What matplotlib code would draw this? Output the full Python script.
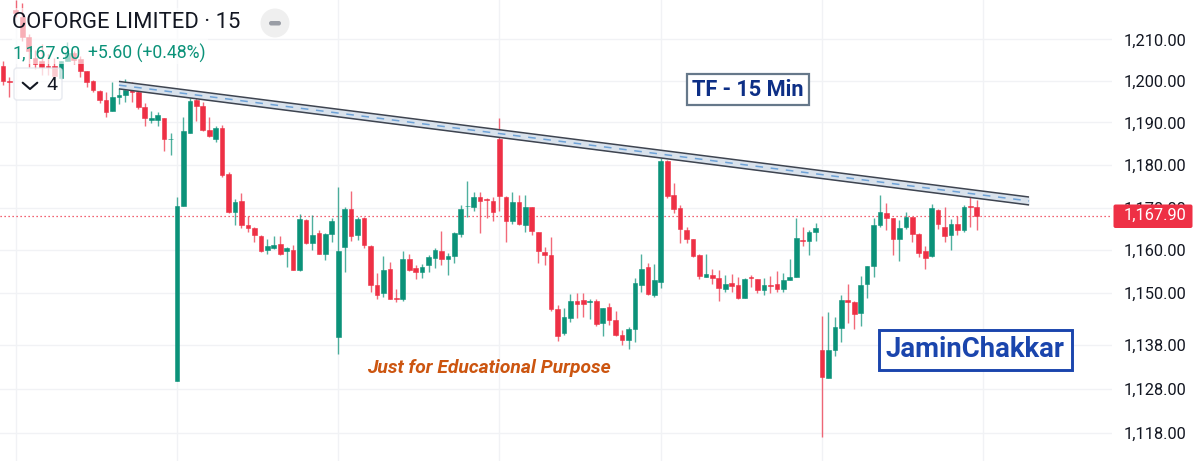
import numpy as np
import matplotlib
matplotlib.use("Agg")
import matplotlib.pyplot as plt
from matplotlib.patches import FancyBboxPatch, Rectangle, Circle
from matplotlib.ticker import FixedLocator, FixedFormatter

plt.rcParams['font.family'] = ['Roboto', 'DejaVu Sans']

# ---- data ----
title = "COFORGE LIMITED · 15"
last_price = 1167.90
tick_values = [1118, 1128, 1138, 1150, 1160, 1170, 1180, 1190, 1200, 1210]
tick_labels = ["1,118.00", "1,128.00", "1,138.00", "1,150.00", "1,160.00",
               "1,170.00", "1,180.00", "1,190.00", "1,200.00", "1,210.00"]
time_grid_idx = [2, 27, 52, 77, 102, 127, 152]

directions = ("RRRRRRRRR GG RRRRRR GGG RRR GG R GGGG RRR G RR G RRRR GG R G R G R G R "
              "GGGG R G RRR G RR G RR GGG R GGGGG RRRRR G R G RRRRR GG RR G R G RRR GGG "
              "R GG RRRRRR G RR G RR G RR G RR GGG R GG R GGG RR GGGG RR GG RRR G RR G R G RR").replace(" ", "")

body_top = [1203.7,1199.9,1216.7,1215.1,1210.6,1205.6,1204.9,1203.6,1203.5,1204.9,
1206.8,1206.8,1205.4,1202.3,1199.9,1197.6,1195.5,1196.2,1196.6,1197.8,
1197.8,1197.3,1193.8,1191.0,1191.7,1191.2,1186.2,1170.4,1187.9,1195.2,
1195.5,1194.0,1188.3,1188.6,1188.8,1177.9,1171.3,1171.6,1165.9,1165.2,
1163.3,1160.9,1161.2,1161.4,1160.5,1160.0,1167.3,1167.1,1163.5,1164.0,
1163.8,1166.8,1159.8,1169.7,1169.7,1167.3,1167.5,1160.9,1151.8,1155.3,
1155.5,1148.7,1157.9,1157.9,1155.8,1156.0,1158.4,1160.0,1159.8,1158.6,
1164.0,1169.7,1170.4,1172.5,1172.5,1172.0,1171.6,1186.0,1172.5,1171.3,
1171.3,1170.1,1170.1,1164.2,1159.5,1158.8,1146.2,1144.4,1148.1,1148.1,
1148.3,1148.1,1148.1,1146.5,1146.7,1143.7,1140.3,1141.7,1152.2,1155.5,
1156.0,1152.9,1180.8,1180.8,1173.0,1169.9,1164.7,1162.6,1158.8,1154.4,
1154.1,1153.4,1152.0,1152.2,1151.8,1153.2,1153.6,1153.2,1151.8,1151.8,
1152.0,1152.9,1153.6,1162.8,1162.4,1164.3,1165.2,1136.9,1136.9,1142.1,
1148.3,1148.3,1147.8,1151.8,1156.2,1165.9,1169.0,1168.7,1167.6,1165.2,
1167.8,1167.8,1163.8,1159.8,1169.9,1169.4,1165.4,1166.1,1166.1,1170.1,
1170.3,1170.1]

body_bottom = [1199.9,1199.8,1216.0,1210.6,1207.3,1204.2,1203.3,1203.3,1201.1,1200.7,
1204.9,1205.1,1202.3,1199.7,1197.8,1195.5,1192.6,1192.8,1196.2,1196.6,
1197.3,1193.8,1191.0,1190.7,1190.7,1186.0,1186.0,1129.8,1170.4,1187.6,
1194.0,1188.3,1186.7,1186.0,1177.7,1169.0,1169.0,1165.9,1165.2,1163.5,
1159.8,1160.0,1160.5,1159.1,1159.8,1155.3,1155.3,1161.6,1161.6,1159.1,
1159.1,1163.8,1139.8,1160.7,1163.3,1163.5,1161.2,1151.8,1149.4,1149.9,
1148.5,1148.5,1148.5,1155.3,1154.8,1154.8,1156.5,1158.1,1157.9,1157.9,
1158.6,1163.8,1170.3,1170.1,1171.6,1171.8,1169.0,1172.7,1166.8,1166.8,
1166.1,1165.9,1164.5,1159.8,1158.8,1146.2,1140.1,1140.7,1144.2,1147.4,
1147.4,1147.8,1142.8,1143.0,1143.7,1140.3,1139.1,1139.1,1141.7,1151.8,
1149.7,1149.4,1152.5,1172.7,1169.7,1165.0,1162.6,1158.6,1153.9,1153.7,
1153.4,1151.1,1150.8,1151.5,1148.7,1148.7,1153.4,1150.6,1150.6,1151.5,
1150.8,1150.8,1152.9,1153.6,1162.1,1162.1,1164.3,1130.7,1130.5,1136.9,
1141.9,1147.8,1145.1,1145.3,1152.0,1156.2,1165.9,1167.6,1162.6,1162.6,
1165.4,1163.8,1159.3,1158.1,1158.6,1166.1,1163.3,1163.5,1164.7,1164.7,
1170.1,1167.9]

highs = [1204.7,1200.9,1219.1,1218.4,1211.3,1207.5,1208.9,1206.6,1205.6,1204.9,
1209.4,1207.3,1206.1,1202.3,1200.2,1197.8,1197.3,1199.7,1198.3,1200.4,
1199.7,1198.5,1194.7,1192.8,1192.6,1191.2,1187.4,1172.5,1191.4,1196.6,
1196.6,1195.0,1191.4,1189.1,1189.5,1178.2,1172.0,1173.5,1168.0,1165.4,
1163.5,1162.6,1163.3,1163.3,1160.7,1161.2,1168.5,1167.3,1168.3,1164.7,
1164.0,1167.5,1174.9,1170.1,1173.9,1167.8,1167.8,1161.2,1154.6,1158.6,
1157.2,1150.8,1159.8,1159.1,1156.5,1156.7,1158.8,1160.5,1164.5,1159.3,
1164.2,1170.6,1176.1,1173.7,1173.7,1172.3,1172.5,1191.0,1172.7,1173.7,
1173.0,1173.0,1170.1,1164.2,1160.7,1163.1,1147.1,1146.5,1149.7,1149.9,
1149.9,1148.5,1148.5,1146.5,1147.6,1145.8,1141.4,1142.1,1153.5,1159.1,
1156.9,1156.7,1181.5,1181.0,1175.8,1170.6,1165.4,1162.6,1159.1,1159.1,
1155.5,1155.3,1154.1,1154.4,1153.6,1153.4,1154.1,1153.2,1153.4,1153.9,
1155.1,1154.6,1157.9,1167.6,1165.4,1164.7,1166.4,1144.6,1145.5,1144.4,
1149.4,1152.0,1148.1,1153.9,1156.2,1167.6,1173.0,1171.1,1167.6,1167.1,
1169.0,1167.8,1164.0,1160.9,1170.9,1169.7,1170.1,1167.3,1168.0,1170.6,
1174.4,1171.8]

lows = [1199.0,1196.2,1215.1,1209.6,1203.3,1203.0,1201.4,1201.4,1200.9,1200.4,
1204.9,1204.0,1200.9,1198.5,1197.3,1194.7,1191.4,1192.8,1194.5,1195.0,
1195.0,1193.3,1189.1,1189.8,1189.1,1183.2,1182.2,1129.8,1170.4,1187.6,
1190.3,1188.1,1186.5,1185.3,1177.2,1168.7,1165.9,1165.2,1164.2,1161.9,
1159.5,1159.1,1160.2,1158.8,1156.0,1155.3,1155.1,1161.4,1160.0,1159.1,
1157.6,1161.9,1136.0,1154.8,1162.1,1162.4,1160.5,1150.1,1148.5,1149.0,
1148.5,1147.8,1148.0,1155.1,1153.2,1153.4,1154.8,1155.8,1156.5,1154.1,
1156.9,1163.1,1167.8,1169.2,1164.0,1167.5,1166.8,1169.2,1161.9,1166.1,
1165.9,1164.2,1163.5,1156.9,1156.5,1145.8,1138.9,1140.3,1143.3,1144.2,
1144.4,1143.9,1142.3,1140.1,1142.6,1140.1,1138.0,1137.1,1138.7,1150.1,
1149.4,1149.0,1151.1,1172.3,1168.7,1161.6,1161.6,1158.4,1153.2,1153.7,
1152.0,1148.1,1150.1,1150.1,1148.5,1148.7,1151.3,1149.9,1149.4,1149.9,
1150.1,1150.1,1152.9,1153.6,1160.9,1158.8,1162.1,1117.1,1130.5,1135.5,
1138.7,1143.0,1141.7,1142.3,1148.7,1153.6,1165.4,1164.7,1158.8,1157.4,
1165.0,1161.9,1158.4,1155.5,1158.4,1164.9,1161.9,1160.0,1163.5,1164.3,
1165.4,1164.7]

channel_idx = [18.0, 159.1]
channel_upper = [1199.9, 1172.45]
channel_lower = [1198.1, 1170.6]

# ---- figure ----
W, H = 1200, 461
RED, GREEN = "#EE3045", "#0B9279"
fig = plt.figure(figsize=(W / 100, H / 100), dpi=100, facecolor="white")
pane_w = 1112 / W
ax = fig.add_axes([0, 0, pane_w, 1])

# the price axis is not evenly spaced in the reference
scale_prices = [900, 1111.6, 1118, 1128, 1138, 1150, 1160, 1170, 1180, 1190, 1200, 1210, 1219.1, 1400]
scale_pixels = [1400, 461, 433, 389, 345, 292.5, 250, 207.5, 164.7, 122.5, 81, 39.5, 0, -780]
fwd = lambda v: -np.interp(v, scale_prices, scale_pixels)
inv = lambda p: np.interp(-np.asarray(p), scale_pixels[::-1], scale_prices[::-1])
ax.set_yscale("function", functions=(fwd, inv))
ax.set_ylim(1111.6, 1219.1)
ax.set_xlim(-2.85 / 6.45, (1112 - 2.85) / 6.45)

for s in ax.spines.values():
    s.set_visible(False)
ax.yaxis.tick_right()
ax.yaxis.set_major_locator(FixedLocator(tick_values))
ax.yaxis.set_major_formatter(FixedFormatter(tick_labels))
ax.yaxis.set_minor_locator(FixedLocator([]))
ax.tick_params(axis="y", length=0, pad=8.6, labelsize=11.8, labelcolor="#131722")
ax.xaxis.set_major_locator(FixedLocator(time_grid_idx))
ax.tick_params(axis="x", length=0, labelbottom=False)
ax.grid(True, color="#F1F2F5", lw=1.0, zorder=0)
ax.set_axisbelow(True)

ax.axhline(last_price, color=RED, lw=0.9, ls=(0, (1, 2.2)), zorder=1)

idx = np.arange(len(body_top))
colors = [GREEN if d == "G" else RED for d in directions]
ax.vlines(idx, lows, highs, colors=colors, lw=1.0, alpha=0.72, zorder=2)
ax.bar(idx, np.array(body_top) - np.array(body_bottom), bottom=body_bottom,
       width=0.72, color=colors, linewidth=0.4, edgecolor=colors, zorder=3)

# trend channel
ax.fill_between(channel_idx, channel_lower, channel_upper, color="#D9E2EC", lw=0, zorder=4)
ax.plot(channel_idx, channel_upper, color="#3E4450", lw=1.1, zorder=5, solid_capstyle="butt")
ax.plot(channel_idx, channel_lower, color="#3E4450", lw=1.1, zorder=5, solid_capstyle="butt")
ax.plot(channel_idx, np.mean([channel_upper, channel_lower], axis=0), color="#6FA3D8",
        lw=1.1, ls=(0, (5, 5)), zorder=6)

# overlay in picture pixels for the app's furniture and annotations
ov = fig.add_axes([0, 0, 1, 1], facecolor="none", zorder=5)
ov.set_xlim(0, W)
ov.set_ylim(H, 0)
ov.axis("off")

ov.add_patch(Rectangle((12, 8), 196, 56, fc="white", ec="none", alpha=0.62))
ov.add_patch(FancyBboxPatch((14, 68), 48, 32, boxstyle="round,pad=0,rounding_size=3",
                            fc="white", ec="#E0E3EB", lw=1.0, alpha=0.75))
ov.plot([22.7, 30, 37.3], [82.7, 89, 82.7], color="#131722", lw=1.5, solid_capstyle="round")
ov.text(51.5, 84.5, "4", fontsize=14, color="#131722", ha="center", va="center")

ov.text(12.5, 23, title, fontsize=15.8, color="#131722", ha="left", va="center")
ov.text(12, 53, "1,167.90", fontsize=12.9, color=GREEN, ha="left", va="center")
ov.text(88, 53, "+5.60 (+0.48%)", fontsize=12.7, color=GREEN, ha="left", va="center")
ov.add_patch(Circle((275, 23), 14.5, fc="#EFEFEF", ec="none"))
ov.add_patch(FancyBboxPatch((269, 21), 12, 4.5, boxstyle="round,pad=0,rounding_size=2.2",
                            fc="#9A9EA6", ec="none"))

ov.add_patch(FancyBboxPatch((1113.5, 204.5), 79, 23.5, boxstyle="round,pad=0,rounding_size=2",
                            fc=RED, ec="none"))
ov.text(1124, 215.5, "1,167.90", fontsize=11.8, color="white", ha="left", va="center")

ov.add_patch(Rectangle((686.5, 74.5), 122.5, 30.5, fc="white", ec="#66788A", lw=1.6))
ov.text(747.5, 90, "TF - 15 Min", fontsize=15.7, fontweight="bold", color="#0D2F86",
        ha="center", va="center")

ov.add_patch(Rectangle((879, 330), 193, 39.5, fc="white", ec="#1A45AD", lw=2.1))
ov.text(975, 349.5, "JaminChakkar", fontsize=19.8, fontweight="bold", color="#1A45AD",
        ha="center", va="center")

ov.text(488.5, 367.5, "Just for Educational Purpose", fontsize=13.9, fontweight="bold",
        fontstyle="italic", color="#CC5510", ha="center", va="center")

fig.savefig("out.png", dpi=100)
